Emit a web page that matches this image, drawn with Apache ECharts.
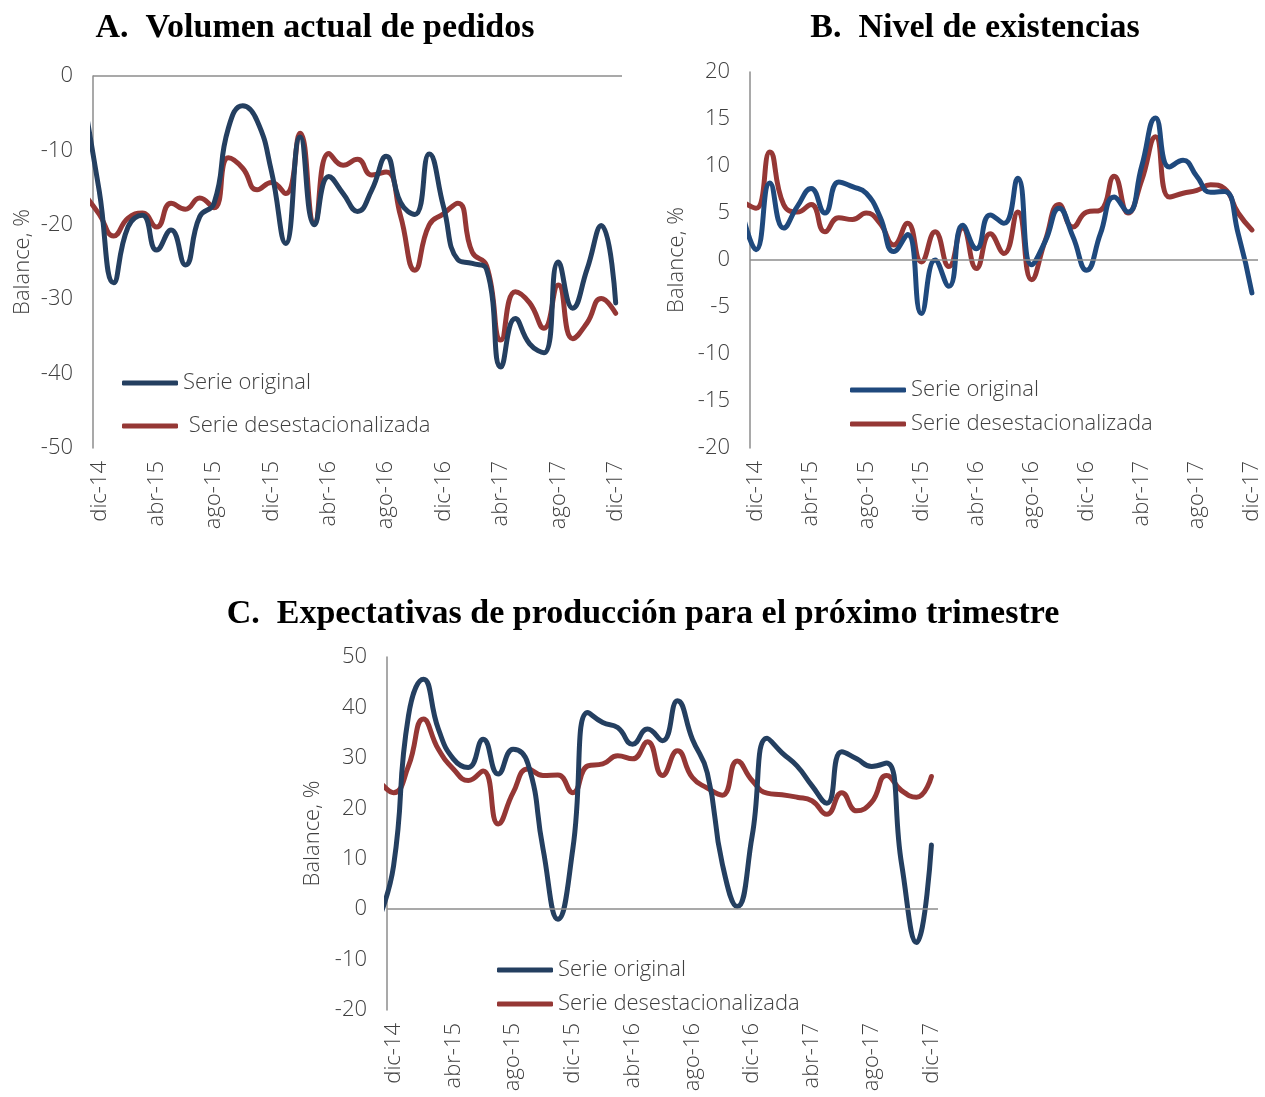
<!DOCTYPE html>
<html>
<head>
<meta charset="utf-8">
<script src="https://cdn.jsdelivr.net/npm/echarts@6.0.0/dist/echarts.min.js"></script>
<style>
  html, body { margin: 0; padding: 0; background: #fff; }
  #chart { width: 1265px; height: 1097px; }
</style>
</head>
<body>
<div id="chart"></div>
<script>
"use strict";

// meses; el primero (nov-14) solo alimenta el tramo recortado a la izquierda de dic-14
const MONTHS = [
  "nov-14", "dic-14",
  "ene-15", "feb-15", "mar-15", "abr-15", "may-15", "jun-15", "jul-15", "ago-15", "sep-15", "oct-15", "nov-15", "dic-15",
  "ene-16", "feb-16", "mar-16", "abr-16", "may-16", "jun-16", "jul-16", "ago-16", "sep-16", "oct-16", "nov-16", "dic-16",
  "ene-17", "feb-17", "mar-17", "abr-17", "may-17", "jun-17", "jul-17", "ago-17", "sep-17", "oct-17", "nov-17", "dic-17"
];
const TICK_POS = [0, 4, 8, 12, 16, 20, 24, 28, 32, 36];

const NAME_ORIG   = "Serie original";
const NAME_DESEST = "Serie desestacionalizada";

/* A. Volumen actual de pedidos */
const PEDIDOS_ORIG = [
  -4, -15.5, -27.8, -20.3, -18.7, -23.4, -20.7, -25.4, -18.9, -17.1, -7, -4, -6, -12.8,
  -22.5, -8.2, -20, -13.5, -15.8, -18.2, -15.3, -10.8, -17, -18.6, -10.5, -17.6,
  -24.7, -25.2, -26, -39.1, -32.6, -36, -37.2, -25, -31.2, -26, -20.1, -30.5
];
const PEDIDOS_DESEST = [
  -16, -18.6, -21.5, -19.1, -18.4, -20.3, -17.1, -17.9, -16.4, -17.7, -11, -12.4, -15.3, -14.3,
  -15.8, -7.7, -19.8, -10.4, -12, -11.2, -13.3, -12.9, -18.8, -26.1, -20, -18.5,
  -17.1, -23.7, -25.5, -35.5, -29, -30.5, -33.9, -28.1, -35.3, -33.2, -29.9, -31.9
];

/* B. Nivel de existencias */
const EXIST_ORIG = [
  5, 1.1, 8.2, 3.4, 5.7, 7.6, 5.0, 8.3, 7.8, 7.1, 4.6, 0.9, 2.7, -5.7,
  0.0, -2.8, 3.7, 1.2, 4.8, 3.9, 8.7, -0.5, 2.0, 5.5, 2.5, -1.1,
  2.8, 6.7, 5.1, 10, 15.1, 9.9, 10.6, 8.9, 7.2, 7.3, 2.8, -3.5
];
const EXIST_DESEST = [
  6.2, 5.5, 11.5, 5.9, 5.1, 5.9, 3.0, 4.5, 4.3, 5.0, 3.9, 1.6, 3.9, -0.2,
  3.0, -0.7, 3.4, -0.9, 2.8, 0.7, 5.1, -2.1, 2.1, 5.9, 3.5, 5.1,
  5.3, 8.9, 5.0, 8.5, 13.1, 6.7, 7.1, 7.4, 8.0, 7.6, 5.0, 3.2
];

/* C. Expectativas de producción */
const EXPECT_ORIG = [
  -2, 8.6, 38.4, 45.6, 35.7, 29.8, 28.1, 33.7, 26.8, 31.7, 28.8, 12, -2, 12,
  39, 37, 36, 32.7, 35.7, 33.4, 41.3, 33.7, 27, 9, 0.5, 14.5,
  33.9, 31, 28.4, 24.5, 21, 31.2, 29.8, 28.3, 29, 9, -6.6, 12.7
];
const EXPECT_DESEST = [
  25.6, 23.1, 28.4, 37.7, 31.7, 27.8, 25.5, 27.4, 16.9, 23.1, 27.8, 26.5, 26.6, 23.1,
  28.4, 28.8, 30.4, 29.8, 33.2, 26.5, 31.4, 26.1, 24, 22.6, 29.4, 25.5,
  23, 22.7, 22.2, 21.5, 18.8, 23.1, 19.5, 21.2, 26.5, 23.5, 22.2, 26.3
];

const RED   = "#953735";
const GREY  = "#8c8c8c";
const TEXT  = "#404040";
const FONT  = "'Open Sans', Lato, sans-serif";
const XMIN  = -0.44;
const XMAX  = 36.44;

const PANELS = [
  {
    title: "A.  Volumen actual de pedidos", tx: 315, ty: 28,
    grid: { left: 93, top: 76, width: 529, height: 372 },
    yMin: -50, yMax: 0, yStep: 10, nameGap: 59,
    orig: PEDIDOS_ORIG, desest: PEDIDOS_DESEST, blue: "#243F60",
    legend: { left: 122, top: 370, itemGap: 17 }, padRed: true
  },
  {
    title: "B.  Nivel de existencias", tx: 975, ty: 28,
    grid: { left: 750, top: 72, width: 508, height: 376 },
    yMin: -20, yMax: 20, yStep: 5, nameGap: 62,
    orig: EXIST_ORIG, desest: EXIST_DESEST, blue: "#1F497D",
    legend: { left: 850, top: 377, itemGap: 8 }, padRed: false
  },
  {
    title: "C.  Expectativas de producción para el próximo trimestre", tx: 643, ty: 614,
    grid: { left: 387, top: 657, width: 551, height: 353 },
    yMin: -20, yMax: 50, yStep: 10, nameGap: 63,
    orig: EXPECT_ORIG, desest: EXPECT_DESEST, blue: "#243F60",
    legend: { left: 497, top: 957, itemGap: 8 }, padRed: false
  }
];

const toPoints = arr => arr.map((v, k) => [k - 1, v]);

function lineSeries(name, data, color, idx, withZero) {
  const s = {
    name, type: "line", xAxisIndex: idx, yAxisIndex: idx,
    data: toPoints(data), smooth: true, symbol: "none", clip: true,
    lineStyle: { color, width: 5, cap: "round", join: "round" },
    itemStyle: { color }, z: withZero ? 3 : 2
  };
  if (withZero) {
    s.markLine = {
      silent: true, symbol: ["none", "none"], animation: false,
      label: { show: false },
      lineStyle: { color: GREY, width: 1.5, type: "solid" },
      data: [{ yAxis: 0 }]
    };
  }
  return s;
}

const chart = echarts.init(document.getElementById("chart"), null, { renderer: "canvas" });

chart.setOption({
  animation: false,
  backgroundColor: "#ffffff",
  graphic: PANELS.map(p => ({
    type: "text", x: p.tx, y: p.ty,
    style: {
      text: p.title, fill: "#000",
      font: "bold 34px 'Liberation Serif', 'DejaVu Serif', serif",
      textAlign: "center", textVerticalAlign: "middle"
    }
  })),
  grid: PANELS.map(p => ({ ...p.grid, containLabel: false, outerBoundsMode: "none" })),
  xAxis: PANELS.map((p, i) => ({
    type: "value", gridIndex: i, min: XMIN, max: XMAX, position: "bottom",
    axisLine: { show: false }, axisTick: { show: false }, splitLine: { show: false },
    axisLabel: {
      customValues: TICK_POS, rotate: 90, margin: 13,
      formatter: v => MONTHS[Math.round(v) + 1],
      fontSize: 22, fontWeight: 300, color: TEXT, fontFamily: FONT
    }
  })),
  yAxis: PANELS.map((p, i) => ({
    type: "value", gridIndex: i, min: p.yMin, max: p.yMax, interval: p.yStep,
    axisLine: { show: true, onZero: false, lineStyle: { color: GREY, width: 1.5 } },
    axisTick: { show: false }, splitLine: { show: false },
    axisLabel: { fontSize: 22, fontWeight: 300, color: TEXT, fontFamily: FONT, margin: 20 },
    name: "Balance, %", nameLocation: "middle", nameGap: p.nameGap,
    nameTextStyle: { fontSize: 22, fontWeight: 300, color: TEXT, fontFamily: FONT }
  })),
  legend: PANELS.map(p => ({
    orient: "vertical", left: p.legend.left, top: p.legend.top, itemGap: p.legend.itemGap,
    padding: 0, icon: "roundRect", itemWidth: 56, itemHeight: 5, selectedMode: false,
    textStyle: { fontSize: 22, fontWeight: 300, color: TEXT, fontFamily: FONT, lineHeight: 26 },
    formatter: name => (p.padRed && name === NAME_DESEST ? " " + name : name),
    data: [
      { name: NAME_ORIG, itemStyle: { color: p.blue } },
      { name: NAME_DESEST, itemStyle: { color: RED } }
    ]
  })),
  series: PANELS.flatMap((p, i) => [
    lineSeries(NAME_ORIG, p.orig, p.blue, i, true),
    lineSeries(NAME_DESEST, p.desest, RED, i, false)
  ])
});
</script>
</body>
</html>
